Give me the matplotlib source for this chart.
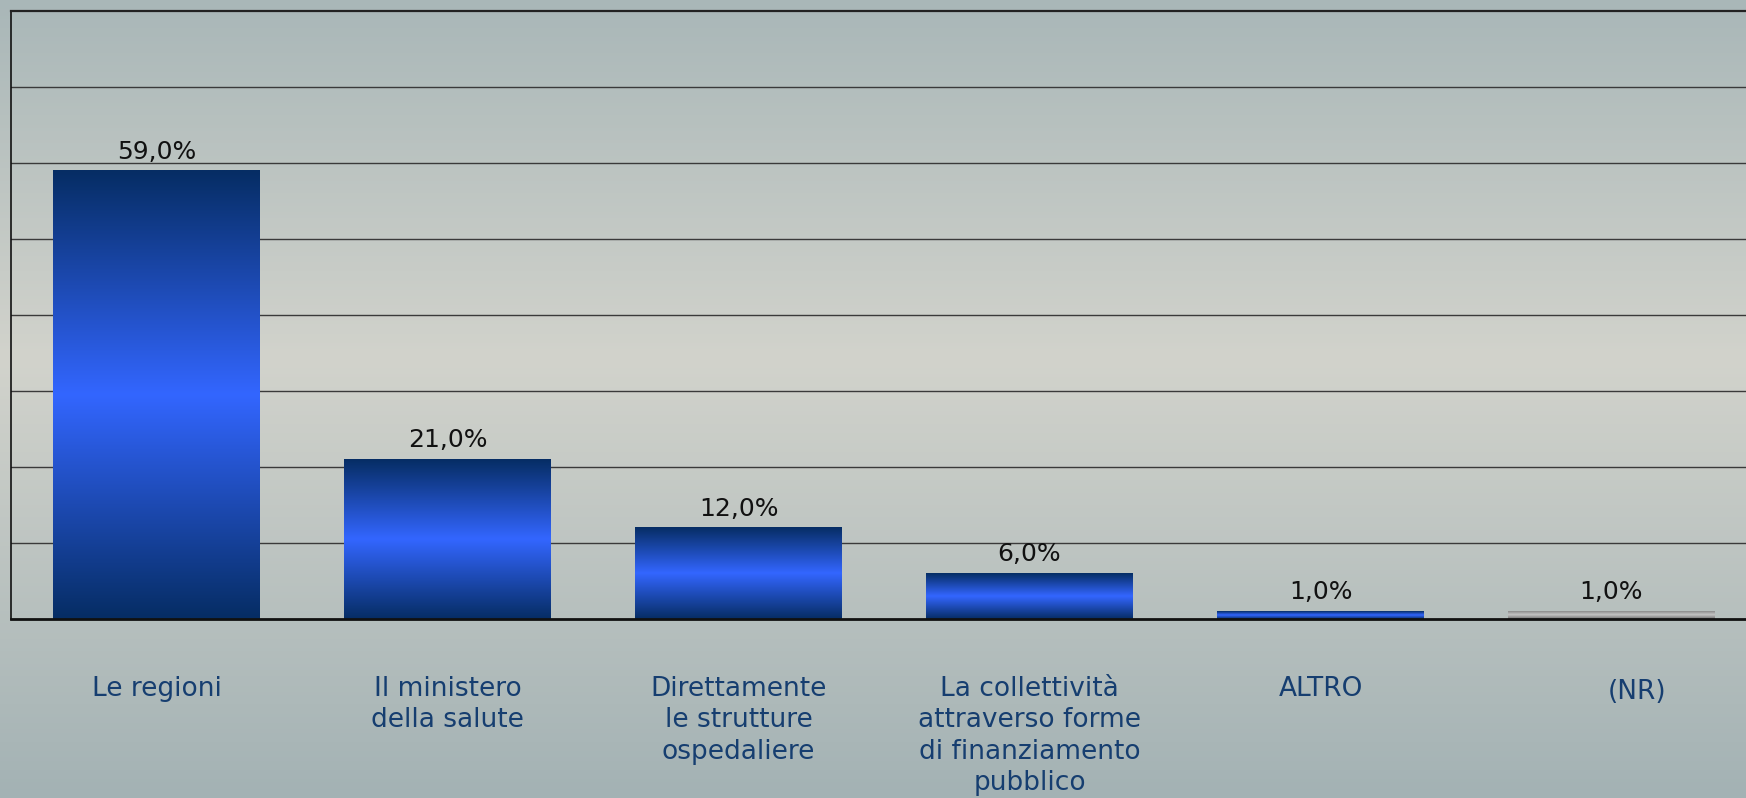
import matplotlib
matplotlib.use("Agg")
import matplotlib.pyplot as plt
import matplotlib.transforms as mtransforms
import numpy as np
from matplotlib.colors import LinearSegmentedColormap

categories = ["Le regioni",
              "Il ministero\ndella salute",
              "Direttamente\nle strutture\nospedaliere",
              "La collettività\nattraverso forme\ndi finanziamento\npubblico",
              "ALTRO",
              "(NR)"]
values = [59.0, 21.0, 12.0, 6.0, 1.0, 1.0]
gray_bar = [False, False, False, False, False, True]

blue_cmap = LinearSegmentedColormap.from_list(
    "bluebar", [(0, "#062d64"), (0.5, "#3366ff"), (1, "#062d64")])
gray_cmap = LinearSegmentedColormap.from_list(
    "graybar", [(0, "#8a8a8a"), (0.45, "#c4c4c4"), (1, "#6e6e6e")])
bg_cmap = LinearSegmentedColormap.from_list(
    "bg", [(0, "#a9b7b8"), (0.45, "#d2d3cc"), (1, "#a3b2b4")])

fig = plt.figure(figsize=(17.46, 7.98), dpi=100)

# background gradient over the whole figure
bg = fig.add_axes([0, 0, 1, 1], zorder=0)
bg.imshow(np.linspace(0, 1, 256).reshape(-1, 1), aspect="auto",
          cmap=bg_cmap, extent=[0, 1, 0, 1])
bg.axis("off")

ax = fig.add_axes([11 / 1746, 179 / 798, 1.0, 608 / 798], zorder=1)
ax.patch.set_alpha(0)

x = np.arange(len(categories))
bars = ax.bar(x, values, width=0.71, color="none", zorder=1)

grad = np.linspace(0, 1, 256).reshape(-1, 1)
for b, g in zip(bars, gray_bar):
    x0, w, h = b.get_x(), b.get_width(), b.get_height()
    ax.imshow(grad, aspect="auto", cmap=gray_cmap if g else blue_cmap,
              extent=[x0, x0 + w, 0, h], zorder=2, interpolation="bilinear")

for xi, v in zip(x, values):
    ax.annotate(f"{v:.1f}%".replace(".", ","), (xi, v), xytext=(0, 5),
                textcoords="offset points", ha="center", va="bottom",
                fontsize=18, color="#111111")

ax.set_xlim(-0.5, 5.5)
ax.set_ylim(0, 80)
ax.set_yticks(np.arange(10, 80, 10))
ax.yaxis.grid(True, color="#3a3a3a", linewidth=1.0)
ax.set_axisbelow(True)
ax.tick_params(axis="y", length=0, labelleft=False)

ax.set_xticks(x)
ax.set_xticklabels(categories, fontsize=19, color="#163e70")
ax.tick_params(axis="x", length=0, pad=41)
for lab in ax.get_xticklabels():
    lab.set_linespacing(1.27)
    lab.set_verticalalignment("top")
nr = ax.get_xticklabels()[-1]
nr.set_transform(nr.get_transform() +
                 mtransforms.ScaledTranslation(26 / 100, -3 / 100, fig.dpi_scale_trans))

ax.spines["left"].set_color("#111111")
ax.spines["left"].set_linewidth(1.2)
ax.spines["top"].set_color("#222222")
ax.spines["top"].set_linewidth(1.6)
ax.spines["bottom"].set_color("#111111")
ax.spines["bottom"].set_linewidth(2)
ax.spines["right"].set_visible(False)

fig.savefig("out.png", dpi=100)
